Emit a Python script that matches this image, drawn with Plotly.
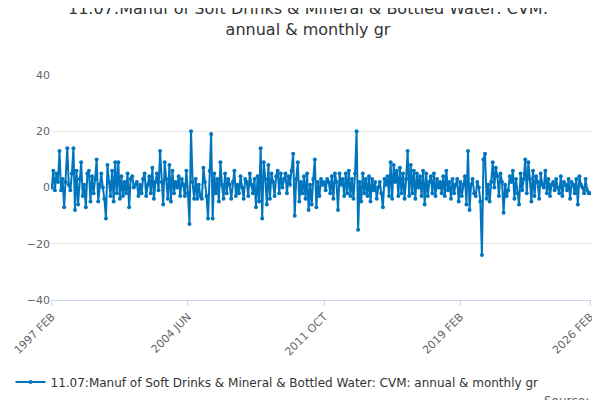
import pandas as pd
import plotly.graph_objects as go

# monthly growth values, Feb 1997 .. Feb 2026
values = [
    0, 6, -1, 5, 2, 13, -1, 3, -7, 2, 14, 1,
    -1, 5, 14, -8, 6, -6, 3, 9, -3, 1, -7, 5,
    6, -5, 4, -2, 3, 10, -5, 1, 5, 0, -4, -11,
    8, 2, -3, 6, -5, 9, -2, 9, -4, 4, -3, 2,
    -2, 5, -7, 3, 4, 0, 1, 2, -3, 1, -2, 3,
    5, -3, 1, 4, -2, 7, -4, 2, 5, -1, 13, 2,
    -6, 9, 3, -4, 8, -5, 6, -2, 2, 0, 4, -3,
    3, 1, -3, 6, -2, -13, 20, 2, -4, 3, -4, 1,
    -3, -4, 7, 2, -3, -11, 6, 19, -11, 5, -2, 3,
    -5, 9, 1, -4, 5, -2, 3, 1, -4, 2, 6, -3,
    1, -2, 4, 0, -4, 3, 2, -3, 5, 1, -2, 3,
    -7, 4, -5, 14, -11, 9, 3, -6, 8, -4, 5, 2,
    -3, 4, 6, -2, 5, 0, 3, 5, -2, 4, 1, 6,
    12, -10, 3, 9, -5, 2, -2, 4, -4, 5, -8, 1,
    -6, 3, 10, -7, 2, -3, 3, 1, 2, -1, 3, 2,
    -2, 4, -4, 5, 2, -8, 5, 1, 3, -3, 5, -2,
    6, -3, 3, -4, 5, 20, -15, 2, -5, 5, -2, 3,
    -3, 4, -5, 3, -1, 2, -4, 0, 2, -2, -7, 3,
    1, 4, -3, 9, -4, 8, 2, 6, -3, 7, -2, 5,
    -4, 3, 13, -3, 8, -2, 6, -4, 5, 0, 4, -3,
    6, -6, 5, -3, 2, 4, -2, 5, -3, 3, 0, 2,
    -2, 4, -3, 6, -1, 2, -4, 3, -2, 1, 3, -5,
    2, -3, 1, 4, -6, 13, -8, 1, 3, -2, -3, 2,
    0, -5, -24, 10, 12, -4, 1, -5, 2, 9, 0, 7,
    4, -3, 5, 2, -9, 1, -3, -1, 4, 2, 6, -4,
    3, -2, -6, 5, -1, 3, 10, -2, 9, 3, -5, 6,
    -3, 4, 2, -4, 5, 1, 0, 6, -2, 3, -3, 1,
    2, -1, 3, 0, -2, 4, -3, 2, 1, -1, 3, -4,
    2, 1, -2, 3, -6, 4, 1, 0, -2, 3, -1, -2,
    -2,
]
months = pd.date_range("1997-02-01", periods=len(values), freq="MS")
labels = [d.strftime("%Y %b").upper() for d in months]
tick_labels = ["1997 FEB", "2004 JUN", "2011 OCT", "2019 FEB", "2026 FEB"]

name = "11.07:Manuf of Soft Drinks & Mineral & Bottled Water: CVM: annual & monthly gr"

fig = go.Figure()
fig.add_trace(go.Scatter(
    x=labels, y=values, mode="lines+markers", name=name,
    line=dict(color="#0075be", width=2),
    marker=dict(color="#0075be", size=4),
))

fig.update_layout(
    width=600, height=400,
    paper_bgcolor="white", plot_bgcolor="white",
    font=dict(family="DejaVu Sans", color="#333"),
    title=dict(text="11.07:Manuf of Soft Drinks & Mineral & Bottled Water: CVM:<br>annual & monthly gr",
               x=0.5, xanchor="center", y=0.985, yanchor="top", font=dict(size=16)),
    margin=dict(l=43, r=17, t=67, b=108, autoexpand=False),
    showlegend=True,
    legend=dict(orientation="h", x=-0.075, y=-0.3, xanchor="left", yanchor="top",
                font=dict(size=12)),
    xaxis=dict(type="category", tickmode="array", tickvals=tick_labels, ticktext=tick_labels,
               tickangle=-45, tickfont=dict(size=11, color="#666"),
               showgrid=False, showline=True, linecolor="#ccd6eb", ticks="outside",
               ticklen=5, tickcolor="#ccd6eb", range=[-0.5, len(values) - 0.5]),
    yaxis=dict(range=[-40, 40], dtick=20, gridcolor="#e6e6e6", zeroline=False,
               tickfont=dict(size=11, color="#666")),
)
fig.add_annotation(text="Source:", x=1.0, y=-0.45, xref="paper", yref="paper",
                   xanchor="right", yanchor="middle", showarrow=False,
                   font=dict(size=12, color="#666"))

fig.write_html("out.html")
